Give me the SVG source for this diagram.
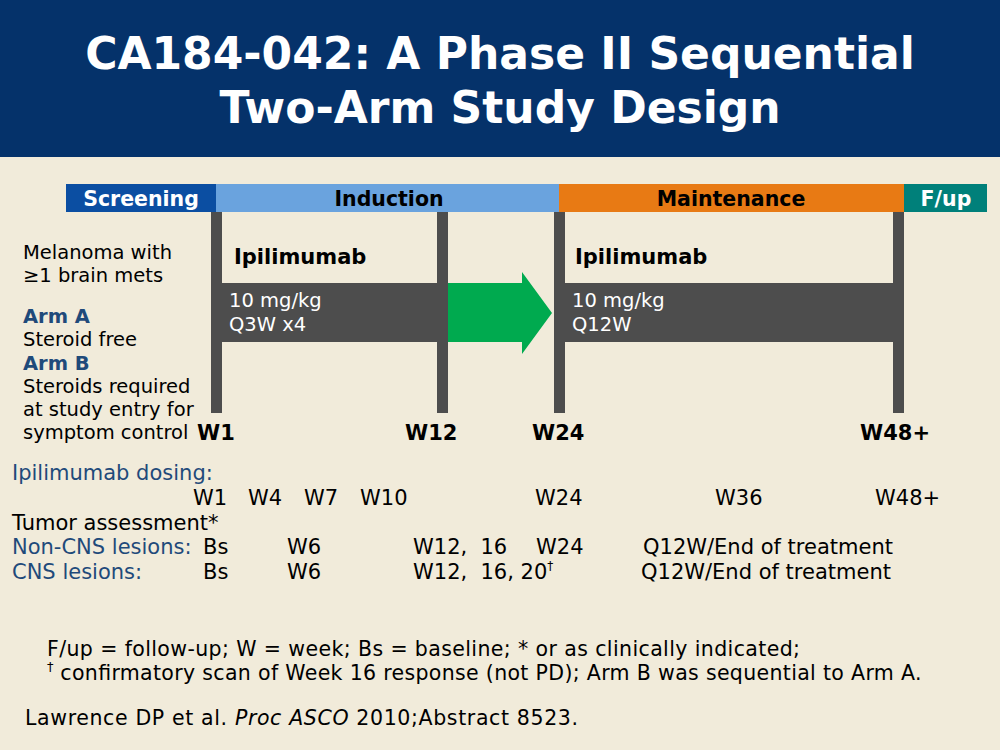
<svg xmlns="http://www.w3.org/2000/svg" width="1000" height="750" viewBox="0 0 1000 750">
<style>
text{font-family:"DejaVu Sans","Verdana",sans-serif;fill:#000}
.title{font-size:44px;font-weight:bold;fill:#fff}
.phase{font-size:20.5px;font-weight:bold}
.ipi{font-size:21px;font-weight:bold}
.b{font-weight:bold}
.lab{font-size:19.5px}
.wk{font-size:21px;font-weight:bold}
.dose{font-size:19.5px;fill:#fff}
.blue{fill:#1F4A7A}
.row{font-size:21px}
.foot{font-size:20.5px}
.cite{font-size:20.5px}
</style>
<rect width="1000" height="750" fill="#F1EBDA"/>
<g id="title">
<rect x="0" y="0" width="1000" height="157" fill="#05326A"/>
<text class="title" x="500" y="69" text-anchor="middle">CA184-042: A Phase II Sequential</text>
<text class="title" x="500" y="123" text-anchor="middle">Two-Arm Study Design</text>
</g>
<g id="phases">
<rect x="66" y="184" width="150" height="28" fill="#0B4EA2"/>
<text class="phase" x="141" y="206" text-anchor="middle" style="fill:#fff">Screening</text>
<rect x="216" y="184" width="343" height="28" fill="#6AA3DE"/>
<text class="phase" x="389" y="206" text-anchor="middle">Induction</text>
<rect x="559" y="184" width="345" height="28" fill="#E87A14"/>
<text class="phase" x="731" y="206" text-anchor="middle">Maintenance</text>
<rect x="904" y="184" width="83" height="28" fill="#00807A"/>
<text class="phase" x="946" y="206" text-anchor="middle" style="fill:#fff">F/up</text>
</g>
<g id="connectors">
<rect x="211" y="212" width="11" height="201" fill="#4D4D4D"/>
<rect x="437" y="212" width="11" height="201" fill="#4D4D4D"/>
<rect x="554" y="212" width="11" height="201" fill="#4D4D4D"/>
<rect x="893" y="212" width="11" height="201" fill="#4D4D4D"/>
<rect x="211" y="283" width="237" height="59" fill="#4D4D4D"/>
<rect x="554" y="283" width="350" height="59" fill="#4D4D4D"/>
<polygon points="448,283 522,283 522,272 552,313 522,354 522,342 448,342" fill="#00AA4F"/>
</g>
<g id="induction">
<text class="ipi" x="234" y="264">Ipilimumab</text>
<text class="dose" x="229" y="307">10 mg/kg</text>
<text class="dose" x="229" y="331">Q3W x4</text>
</g>
<g id="maintenance">
<text class="ipi" x="575" y="264">Ipilimumab</text>
<text class="dose" x="572" y="307">10 mg/kg</text>
<text class="dose" x="572" y="331">Q12W</text>
</g>
<g id="population">
<text class="lab" x="23" y="259">Melanoma with</text>
<text class="lab" x="23" y="282">≥1 brain mets</text>
<text class="lab b blue" x="23" y="323">Arm A</text>
<text class="lab" x="23" y="346">Steroid free</text>
<text class="lab b blue" x="23" y="370">Arm B</text>
<text class="lab" x="23" y="393">Steroids required</text>
<text class="lab" x="23" y="416">at study entry for</text>
<text class="lab" x="23" y="439">symptom control</text>
</g>
<g id="weeks">
<text class="wk" x="197" y="440">W1</text>
<text class="wk" x="405" y="440">W12</text>
<text class="wk" x="532" y="440">W24</text>
<text class="wk" x="860" y="440">W48+</text>
</g>
<g id="schedule">
<text class="row blue" x="12" y="480">Ipilimumab dosing:</text>
<text class="row" x="193" y="505">W1</text>
<text class="row" x="248" y="505">W4</text>
<text class="row" x="304" y="505">W7</text>
<text class="row" x="360" y="505">W10</text>
<text class="row" x="535" y="505">W24</text>
<text class="row" x="715" y="505">W36</text>
<text class="row" x="875" y="505">W48+</text>
<text class="row" x="12" y="530">Tumor assessment*</text>
<text class="row blue" x="12" y="554">Non-CNS lesions:</text>
<text class="row" x="203" y="554">Bs</text>
<text class="row" x="287" y="554">W6</text>
<text class="row" x="413" y="554" xml:space="preserve">W12,  16</text>
<text class="row" x="536" y="554">W24</text>
<text class="row" x="643" y="554">Q12W/End of treatment</text>
<text class="row blue" x="12" y="579">CNS lesions:</text>
<text class="row" x="203" y="579">Bs</text>
<text class="row" x="287" y="579">W6</text>
<text class="row" x="413" y="579" xml:space="preserve">W12,  16, 20<tspan font-size="12" dy="-9">†</tspan></text>
<text class="row" x="641" y="579">Q12W/End of treatment</text>
</g>
<g id="footnotes">
<text class="foot" x="47" y="656" textLength="753" lengthAdjust="spacing">F/up = follow-up; W = week; Bs = baseline; * or as clinically indicated;</text>
<text class="foot" x="47" y="680"><tspan font-size="13" dy="-9">†</tspan><tspan dy="9" textLength="868" lengthAdjust="spacing"> confirmatory scan of Week 16 response (not PD); Arm B was sequential to Arm A.</tspan></text>
<text class="cite" x="25" y="725" textLength="553" lengthAdjust="spacing">Lawrence DP et al. <tspan font-style="italic">Proc ASCO</tspan> 2010;Abstract 8523.</text>
</g>
</svg>
